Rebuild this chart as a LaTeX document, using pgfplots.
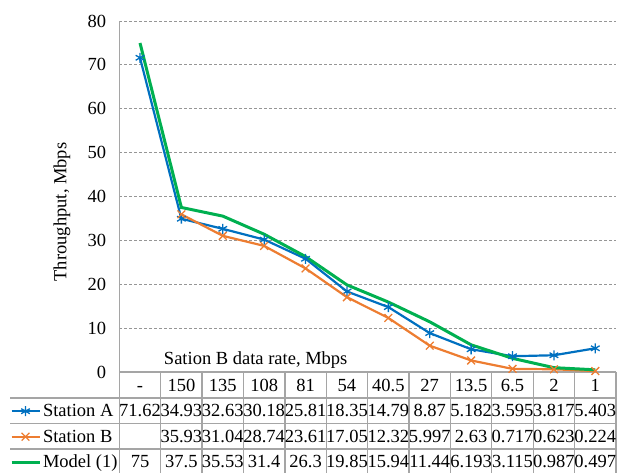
\documentclass[border=0pt]{standalone}
\usepackage{fontspec}
\setmainfont{Liberation Serif}
\usepackage{pgfplots}
\pgfplotsset{compat=1.18}
\definecolor{cA}{RGB}{0,112,192}
\definecolor{cB}{RGB}{237,125,49}
\definecolor{cM}{RGB}{0,176,80}
\definecolor{gridc}{RGB}{150,150,150}
\definecolor{tline}{RGB}{165,165,165}
\begin{document}
\fontsize{18.5pt}{22pt}\selectfont
\begin{tikzpicture}
\useasboundingbox (0pt,0pt) rectangle (617pt,473pt);
\begin{axis}[
  at={(119.3pt,101pt)}, anchor=south west,
  scale only axis, width=496.7pt, height=351pt,
  xmin=-0.5, xmax=11.5, ymin=0, ymax=80,
  clip=false,
  axis x line*=bottom, axis y line*=left,
  axis line style={draw=tline, line width=1.3pt},
  major tick length=0pt,
  xtick={0,...,11},
  xticklabels={-,150,135,108,81,54,40.5,27,13.5,6.5,2,1},
  xticklabel style={anchor=base, inner sep=0pt, yshift=-19.7pt},
  ytick={0,10,...,80},
  yticklabel style={anchor=east, inner sep=0pt, xshift=-13pt},
  /pgf/number format/assume math mode=true,
  ymajorgrids,
  major grid style={draw=gridc, line width=0.9pt, dash pattern=on 3pt off 2pt},
  ylabel={Throughput, Mbps},
  ylabel style={at={(axis description cs:-0.1154,0.456)}, anchor=center},
  xlabel={Sation B data rate, Mbps},
  xlabel style={at={(axis description cs:0.2746,0.02)}, anchor=base, inner sep=0pt},
  legend cell align=left,
  legend image code/.code={\draw[mark repeat=2,mark phase=2,#1] plot coordinates {(0pt,0pt) (14pt,0pt) (28pt,0pt)};},
  legend style={at={(axis description cs:-0.2200,-0.0846)}, anchor=north west,
    draw=none, fill=none, inner sep=0pt, outer sep=0pt, row sep=6.5pt, column sep=2pt,
    nodes={inner sep=0pt, text height=15pt, text depth=4pt, anchor=west}},
]
\addplot[color=cA, line width=2.2pt, mark=asterisk, mark size=5pt, mark options={solid, line width=1.3pt}]
  coordinates {(0,71.62) (1,34.93) (2,32.63) (3,30.18) (4,25.81) (5,18.35) (6,14.79) (7,8.87) (8,5.182) (9,3.595) (10,3.817) (11,5.403)};
\addlegendentry{Station A}
\addplot[color=cB, line width=2.2pt, mark=x, mark size=5.5pt, mark options={solid, line width=1.3pt}]
  coordinates {(1,35.93) (2,31.04) (3,28.74) (4,23.61) (5,17.05) (6,12.32) (7,5.997) (8,2.63) (9,0.717) (10,0.623) (11,0.224)};
\addlegendentry{Station B}
\addplot[color=cM, line width=3pt, mark=none]
  coordinates {(0,75) (1,37.5) (2,35.53) (3,31.4) (4,26.3) (5,19.85) (6,15.94) (7,11.44) (8,6.193) (9,3.115) (10,0.987) (11,0.497)};
\addlegendentry{Model (1)}
\end{axis}
\begin{scope}[x=1pt, y=1pt]
  \foreach \k in {0,...,12} { \draw[tline, line width=1.3pt] ({119.3+41.39*\k},101) -- ({119.3+41.39*\k},0); }
  \foreach \yy in {75,49.5,24} { \draw[tline, line width=1.3pt] (10,\yy) -- (617,\yy); }
  \foreach \v [count=\i from 0] in {71.62,34.93,32.63,30.18,25.81,18.35,14.79,8.87,5.182,3.595,3.817,5.403}
    { \node[anchor=base, inner sep=0pt] at ({140+41.39*\i},56.3) {\v}; }
  \foreach \v [count=\i from 1] in {35.93,31.04,28.74,23.61,17.05,12.32,5.997,2.63,0.717,0.623,0.224}
    { \node[anchor=base, inner sep=0pt] at ({140+41.39*\i},30.7) {\v}; }
  \foreach \v [count=\i from 0] in {75,37.5,35.53,31.4,26.3,19.85,15.94,11.44,6.193,3.115,0.987,0.497}
    { \node[anchor=base, inner sep=0pt] at ({140+41.39*\i},5.2) {\v}; }
\end{scope}
\end{tikzpicture}
\end{document}
